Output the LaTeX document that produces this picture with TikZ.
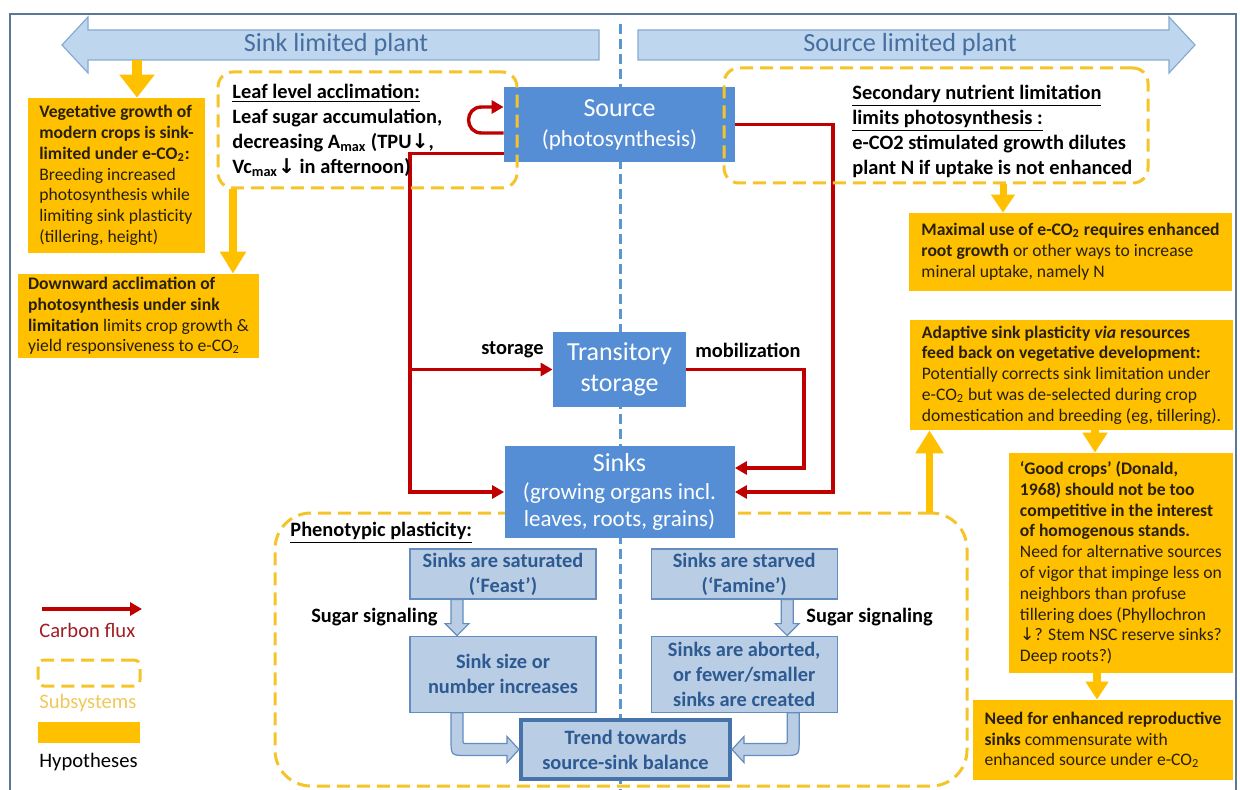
\documentclass[tikz,border=0pt]{standalone}
\usepackage{fontspec}
\setmainfont{Carlito}
\newfontfamily\arrowfont{DejaVu Sans}
\usepackage{color}
\definecolor{fluxred}{RGB}{192,0,0}
\definecolor{fluxtext}{RGB}{160,30,35}
\definecolor{hypgold}{RGB}{255,192,0}
\definecolor{subyellow}{RGB}{244,196,40}
\definecolor{subtext}{RGB}{240,200,90}
\definecolor{boxblue}{RGB}{85,142,213}
\definecolor{paleblue}{RGB}{185,205,229}
\definecolor{paleedge}{RGB}{100,140,190}
\definecolor{trendedge}{RGB}{70,115,170}
\definecolor{darkblue}{RGB}{45,90,145}
\definecolor{barfill}{RGB}{190,215,238}
\definecolor{baredge}{RGB}{135,170,210}
\definecolor{bartext}{RGB}{70,110,160}
\definecolor{framegray}{RGB}{90,120,150}
\definecolor{midline}{RGB}{90,150,210}
\definecolor{hyptext}{RGB}{40,32,10}
\usepackage{tikz}
\usetikzlibrary{arrows.meta,positioning}
\newcommand{\dnarrow}{{\arrowfont ↓}}
\tikzstyle{bluebox}=[fill=boxblue,text=white,align=center,inner sep=0pt,font=\fontsize{11.5}{15}\selectfont]
\tikzstyle{palebox}=[draw=paleedge,line width=0.6pt,fill=paleblue,text=darkblue,align=center,inner sep=0pt,minimum width=93pt,font=\bfseries\fontsize{10.2}{12.5}\selectfont]
\tikzstyle{hyp}=[fill=hypgold,text=hyptext,align=left,inner sep=0pt,font=\fontsize{8.8}{10.4}\selectfont]
\tikzstyle{subsys}=[draw=subyellow,line width=1.5pt,dash pattern=on 6.5pt off 3.5pt,rounded corners=7.5pt]
\tikzstyle{lbl}=[font=\bfseries\fontsize{10.2}{12.5}\selectfont,inner sep=0pt]
\tikzstyle{legtxt}=[anchor=west,inner sep=0pt,font=\fontsize{10.3}{12}\selectfont]
\tikzstyle{flux}=[draw=fluxred,line width=1.7pt,-{Triangle[width=6.5pt,length=6pt]}]
\tikzstyle{hyparrow}=[draw=hypgold,line width=4pt,-{Triangle[width=12.5pt,length=11pt]}]
\tikzstyle{sigarrow}=[draw=paleedge,line width=0.6pt,fill=paleblue]
\tikzstyle{topbar}=[draw=baredge,line width=0.6pt,fill=barfill]

\begin{document}
\begin{tikzpicture}[x=0.5pt,y=-0.5pt]
\useasboundingbox (0,0) rectangle (1240,790);
\draw[framegray,line width=1.2pt] (10,14) rectangle (1236,800);
\draw[midline,line width=1.5pt,dash pattern=on 5pt off 2.5pt] (620,24) -- (620,790);

% sink / source limited bars
\filldraw[topbar] (62,45) -- (88,17) -- (88,30) -- (599,30) -- (599,60) -- (88,60) -- (88,73) -- cycle;
\filldraw[topbar] (1195,45) -- (1169,17) -- (1169,30) -- (638,30) -- (638,60) -- (1169,60) -- (1169,73) -- cycle;
\node[text=bartext,font=\fontsize{13.1}{15}\selectfont] (sinklim) at (336,45) {Sink limited plant};
\node[text=bartext,font=\fontsize{13.1}{15}\selectfont] (srclim) at (910,45) {Source limited plant};

% phenotypic plasticity subsystem
\node[subsys,rounded corners=18pt,minimum width=346pt,minimum height=136.5pt] (phen) at (621,649.5) {};

% carbon pools
\node[bluebox,minimum width=115.5pt,minimum height=37.5pt] (src) at (619.5,124.5) {{\fontsize{13}{15}\selectfont Source}\\(photosynthesis)};
\node[bluebox,minimum width=66.5pt,minimum height=37.5pt,font=\fontsize{13}{15.5}\selectfont] (store) at (619.5,369.5) {Transitory\\storage};
\node[bluebox,minimum width=115pt,minimum height=46pt,font=\fontsize{11.5}{13.8}\selectfont] (sinks) at (619.5,492) {{\fontsize{13}{14}\selectfont Sinks}\\(growing organs incl.\\leaves, roots, grains)};

% carbon flux
\draw[flux] ([yshift=-4.25pt]src.west) -- ([xshift=-11pt,yshift=-4.25pt]src.west) .. controls +(-8.7pt,0pt) and +(-8.7pt,0pt) .. ([xshift=-11pt,yshift=8.75pt]src.west) -- ([yshift=8.75pt]src.west);
\draw[flux] ([yshift=4.5pt]src.south west) -| ([xshift=-47pt]sinks.west) -- (sinks.west);
\draw[flux] ([xshift=-71.25pt]store.west) -- (store.west);
\draw[flux] (src.east) -| ([xshift=49pt]sinks.east) -- (sinks.east);
\draw[flux] (store.east) -| ([xshift=34.5pt,yshift=12pt]sinks.east) -- ([yshift=12pt]sinks.east);
\node[lbl,anchor=east] (storelbl) at (544,350) {storage};
\node[lbl,anchor=west] (mobilbl) at (695,350) {mobilization};

% top subsystems
\node[subsys,minimum width=149.5pt,minimum height=58pt] (leafbox) at (367.5,130) {};
\node[subsys,minimum width=212pt,minimum height=57.5pt] (nutrbox) at (936,125.5) {};
\node[lbl,align=left,anchor=west] (leaftxt) at (232,130.5) {\underline{Leaf level acclimation:}\\Leaf sugar accumulation,\\decreasing A\textsubscript{max} (TPU\dnarrow,\\Vc\textsubscript{max}\dnarrow{} in afternoon)};
\node[lbl,align=left,anchor=west] (nutrtxt) at (852,131) {\underline{Secondary nutrient limitation}\\\underline{limits photosynthesis :}\\e-CO2 stimulated growth dilutes\\plant N if uptake is not enhanced};
\node[lbl,anchor=west] (phentxt) at (290,533) {\underline{Phenotypic plasticity:}};

% hypotheses
\node[hyp,minimum width=88.5pt,minimum height=77.5pt] (veg) at (116.5,175.5) {\textbf{Vegetative growth of}\\\textbf{modern crops is sink-}\\\textbf{limited under e-CO\textsubscript{2}:}\\Breeding increased\\photosynthesis while\\limiting sink plasticity\\(tillering, height)};
\node[hyp,minimum width=120.5pt,minimum height=42pt] (down) at (138.5,316) {\textbf{Downward acclimation of}\\\textbf{photosynthesis under sink}\\\textbf{limitation} limits crop growth \&\\yield responsiveness to e-CO\textsubscript{2}};
\node[hyp,minimum width=161.5pt,minimum height=39pt] (maxuse) at (1070.5,252) {\textbf{Maximal use of e-CO\textsubscript{2} requires enhanced}\\\textbf{root growth} or other ways to increase\\mineral uptake, namely N};
\node[hyp,minimum width=161.5pt,minimum height=55pt] (adapt) at (1071.5,375) {\textbf{Adaptive sink plasticity \textit{via} resources}\\\textbf{feed back on vegetative development:}\\Potentially corrects sink limitation under\\e-CO\textsubscript{2} but was de-selected during crop\\domestication and breeding (eg, tillering).};
\node[hyp,minimum width=112pt,minimum height=110pt] (good) at (1121,563) {\textbf{‘Good crops’ (Donald,}\\\textbf{1968) should not be too}\\\textbf{competitive in the interest}\\\textbf{of homogenous stands.}\\Need for alternative sources\\of vigor that impinge less on\\neighbors than profuse\\tillering does (Phyllochron\\\dnarrow? Stem NSC reserve sinks?\\Deep roots?)};
\node[hyp,minimum width=130pt,minimum height=40pt] (need) at (1103,740) {\textbf{Need for enhanced reproductive}\\\textbf{sinks} commensurate with\\enhanced source under e-CO\textsubscript{2}};

\coordinate (sinkbar) at (137,60);
\draw[hyparrow,line width=5pt,-{Triangle[width=17pt,length=11.5pt]}] (sinkbar) -- (sinkbar |- veg.north);
\coordinate (leafdrop) at ([xshift=-67.25pt]leafbox.south);
\draw[hyparrow] (leafdrop) -- (leafdrop |- down.north);
\coordinate (nutrdrop) at ([xshift=33.5pt]nutrbox.south);
\draw[hyparrow,line width=3.5pt,-{Triangle[width=11.5pt,length=9pt]}] (nutrdrop) -- (nutrdrop |- maxuse.north);
\coordinate (phencorner) at ([xshift=-19.5pt]phen.north east);
\draw[hyparrow,line width=3.5pt,-{Triangle[width=13.5pt,length=11.5pt]}] (phencorner) -- (phencorner |- adapt.south);
\coordinate (adaptdrop) at ([xshift=11.75pt]adapt.south);
\draw[hyparrow,-{Triangle[width=12pt,length=10pt]}] (adaptdrop) -- (adaptdrop |- good.north);
\coordinate (gooddrop) at ([xshift=-12pt]good.south);
\draw[hyparrow,-{Triangle[width=11pt,length=9pt]}] (gooddrop) -- (gooddrop |- need.north);

% feast / famine
\node[palebox,minimum height=25pt] (feast) at (503,574) {Sinks are saturated\\(‘Feast’)};
\node[palebox,minimum height=38pt,below=18pt of feast] (size) {Sink size or\\number increases};
\node[palebox,minimum height=25pt,right=27pt of feast] (famine) {Sinks are starved\\(‘Famine’)};
\node[palebox,minimum height=38pt,below=18pt of famine] (abort) {Sinks are aborted,\\or fewer/smaller\\sinks are created};
\node[palebox,draw=trendedge,line width=2pt,minimum width=104.5pt,minimum height=29.5pt] (trend) at (625.5,749.5) {Trend towards\\source-sink balance};
\node[lbl,anchor=east] (sigleft) at (438,617) {Sugar signaling};
\node[lbl,anchor=west] (sigright) at (806,617) {Sugar signaling};

\filldraw[sigarrow] ([xshift=-26pt]feast.south) -- ++(0pt,-12pt) -- ++(-3pt,0pt) -- ++(6pt,-6pt) -- ++(6pt,6pt) -- ++(-3pt,0pt) -- ++(0pt,12pt) -- cycle;
\filldraw[sigarrow] ([xshift=18.5pt]famine.south) -- ++(0pt,-12pt) -- ++(-3pt,0pt) -- ++(6pt,-6pt) -- ++(6pt,6pt) -- ++(-3pt,0pt) -- ++(0pt,12pt) -- cycle;

\coordinate (ltop) at ([xshift=-23pt]size.south);
\coordinate (lbend) at (ltop |- trend.west);
\filldraw[sigarrow] ([xshift=-3pt]ltop) -- ([xshift=-3pt,yshift=5pt]lbend) .. controls ([xshift=-3pt,yshift=-3pt]lbend) .. ([xshift=5pt,yshift=-3pt]lbend) -- ([xshift=-6pt,yshift=-3pt]trend.west) -- ([xshift=-6pt,yshift=-6.5pt]trend.west) -- (trend.west) -- ([xshift=-6pt,yshift=6.5pt]trend.west) -- ([xshift=-6pt,yshift=3pt]trend.west) -- ([xshift=5pt,yshift=3pt]lbend) .. controls ([xshift=3pt,yshift=3pt]lbend) .. ([xshift=3pt,yshift=5pt]lbend) -- ([xshift=3pt]ltop) -- cycle;
\coordinate (rtop) at ([xshift=24.5pt]abort.south);
\coordinate (rbend) at (rtop |- trend.east);
\filldraw[sigarrow] ([xshift=3pt]rtop) -- ([xshift=3pt,yshift=5pt]rbend) .. controls ([xshift=3pt,yshift=-3pt]rbend) .. ([xshift=-5pt,yshift=-3pt]rbend) -- ([xshift=6pt,yshift=-3pt]trend.east) -- ([xshift=6pt,yshift=-6.5pt]trend.east) -- (trend.east) -- ([xshift=6pt,yshift=6.5pt]trend.east) -- ([xshift=6pt,yshift=3pt]trend.east) -- ([xshift=-5pt,yshift=3pt]rbend) .. controls ([xshift=-3pt,yshift=3pt]rbend) .. ([xshift=-3pt,yshift=5pt]rbend) -- ([xshift=-3pt]rtop) -- cycle;

% legend
\coordinate (legtail) at (42,609);
\coordinate (leghead) at (142,609);
\draw[flux] (legtail) -- (leghead);
\node[legtxt,text=fluxtext] (legflux) at (39,630) {Carbon flux};
\node[subsys,rounded corners=3pt,minimum width=51pt,minimum height=13pt] (legsub) at (89,673) {};
\node[legtxt,text=subtext] (legsubtxt) at (39,703) {Subsystems};
\node[fill=hypgold,minimum width=51pt,minimum height=10.5pt,inner sep=0pt] (leghyp) at (89,732.5) {};
\node[legtxt] (leghyptxt) at (39,762) {Hypotheses};
\end{tikzpicture}
\end{document}
